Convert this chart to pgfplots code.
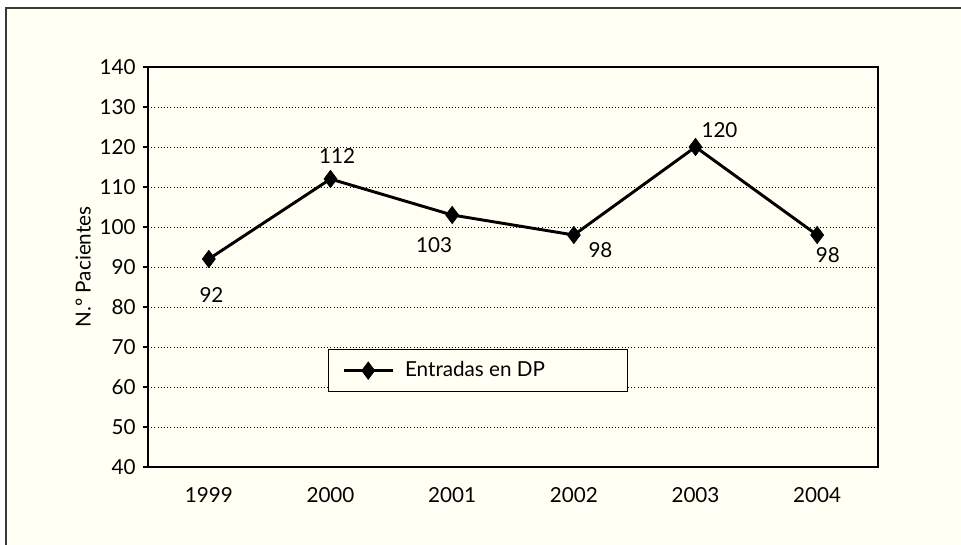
\documentclass[border=0pt]{standalone}
\usepackage{pgfplots}
\pgfplotsset{compat=1.18}
\usepackage{fontspec}
\setmainfont{Lato}
\definecolor{cream}{HTML}{FFFFF4}
\definecolor{framegray}{HTML}{3A3A3A}
\newcommand{\chartfont}{\fontsize{15.5pt}{18pt}\selectfont}

\begin{document}
\chartfont
\begin{tikzpicture}
\useasboundingbox (0,0) rectangle (720.75pt,408.75pt);
\fill[white] (0,0) rectangle (720.75pt,408.75pt);
\fill[cream] (4.5pt,0) rectangle (720.75pt,402.75pt);
\draw[framegray, line width=1.5pt] (4.5pt,0) -- (4.5pt,402.75pt) -- (720.75pt,402.75pt);

\begin{axis}[
    at={(111pt,58.5pt)}, anchor=south west,
    scale only axis,
    width=547.5pt, height=300pt,
    xmin=0.5, xmax=6.5,
    ymin=40, ymax=140,
    ytick={40,50,...,140},
    xtick={1,...,6},
    xticklabels={1999,2000,2001,2002,2003,2004},
    xtick style={draw=none},
    minor xtick={0.5,1.5,...,6.5},
    xtick pos=bottom, ytick pos=left,
    tick align=outside,
    major tick length=4pt,
    minor tick length=4pt,
    tick style={black, line width=0.8pt},
    axis line style={black, line width=0.9pt},
    ymajorgrids,
    grid style={black, dotted, line width=0.7pt},
    axis background/.style={fill=cream},
    /pgf/number format/assume math mode=true,
    ticklabel style={font=\chartfont},
    xticklabel style={yshift=-6pt},
    ylabel={N.º Pacientes},
    ylabel style={font=\chartfont, yshift=-4pt},
    legend style={at={(0.247,0.295)}, anchor=north west, draw=black,
      fill=cream, line width=0.7pt, inner xsep=10pt, inner ysep=7pt,
      font=\chartfont},
    legend image code/.code={
      \draw[mark repeat=2, mark phase=2, #1]
        plot coordinates {(0pt,0pt) (18.5pt,0pt) (37pt,0pt)};},
    clip=false,
]
\addplot[black, line width=2.2pt, mark=diamond*, mark size=6.5pt,
    mark options={solid, fill=black, line width=0.5pt}]
  table[row sep=crcr] {
1 92 \\
2 112 \\
3 103 \\
4 98 \\
5 120 \\
6 98 \\};
\addlegendentry{\hspace{6pt}\makebox[155pt][l]{Entradas en DP}}

\node[shift={(2pt,-27pt)}] at (axis cs:1,92) {92};
\node[shift={(5pt,17pt)}] at (axis cs:2,112) {112};
\node[shift={(-13.5pt,-22.5pt)}] at (axis cs:3,103) {103};
\node[shift={(20pt,-11pt)}] at (axis cs:4,98) {98};
\node[shift={(18pt,13pt)}] at (axis cs:5,120) {120};
\node[shift={(8pt,-15pt)}] at (axis cs:6,98) {98};
\end{axis}
\end{tikzpicture}
\end{document}
